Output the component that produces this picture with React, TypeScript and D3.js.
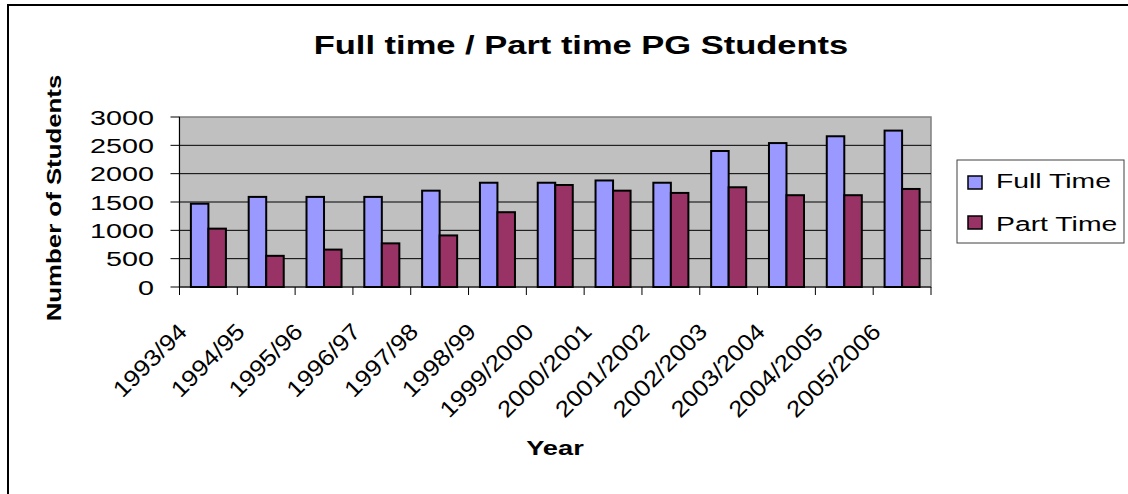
import React from "react";
import * as d3 from "d3";

const categories = [
  "1993/94", "1994/95", "1995/96", "1996/97", "1997/98", "1998/99",
  "1999/2000", "2000/2001", "2001/2002", "2002/2003", "2003/2004", "2004/2005", "2005/2006",
];
const fullTime = [1470, 1590, 1590, 1590, 1700, 1840, 1840, 1880, 1840, 2400, 2540, 2660, 2760];
const partTime = [1030, 550, 660, 770, 910, 1320, 1800, 1700, 1660, 1760, 1620, 1620, 1730];
const yTicks = [0, 500, 1000, 1500, 2000, 2500, 3000];
const seriesNames = ["Full Time", "Part Time"];
const seriesColors = ["#9999FF", "#993366"];

const W = 1128;
const H = 494;
const plot = { left: 179.5, right: 931, top: 117, bottom: 287 };
const FONT = "Arial, 'Liberation Sans', sans-serif";

export default function App() {
  const x = d3.scaleBand<string>().domain(categories).range([plot.left, plot.right]).paddingInner(0).paddingOuter(0);
  const xs = d3.scaleBand<string>().domain(seriesNames).range([0, x.bandwidth()]).paddingInner(0).paddingOuter(0.65);
  const y = d3.scaleLinear().domain([0, 3000]).range([plot.bottom, plot.top]);
  const series = [fullTime, partTime];

  return (
    <svg width={W} height={H} style={{ position: "absolute", left: 0, top: 0, background: "#fff" }} fontFamily={FONT}>
      {/* outer frame */}
      <rect x={8} y={5} width={1300} height={700} fill="#fff" stroke="#000" strokeWidth={2} />

      {/* title */}
      <text transform={`translate(581,54) scale(1.38,1)`} textAnchor="middle" fontWeight="bold" fontSize={25} fill="#000">
        Full time / Part time PG Students
      </text>

      {/* plot area */}
      <rect x={plot.left} y={plot.top} width={plot.right - plot.left} height={plot.bottom - plot.top} fill="#C0C0C0" stroke="#808080" strokeWidth={1.5} />
      {yTicks.filter((t) => t > 0 && t < 3000).map((t) => (
        <line key={t} x1={plot.left} x2={plot.right} y1={y(t)} y2={y(t)} stroke="#000" strokeWidth={1} />
      ))}

      {/* bars */}
      {categories.map((c, i) => (
        <g key={c}>
          {series.map((s, j) => (
            <rect
              key={j}
              x={(x(c) as number) + (xs(seriesNames[j]) as number)}
              y={y(s[i])}
              width={xs.bandwidth()}
              height={y(0) - y(s[i])}
              fill={seriesColors[j]}
              stroke="#000"
              strokeWidth={2}
            />
          ))}
        </g>
      ))}

      {/* axes */}
      <line x1={plot.left} x2={plot.left} y1={plot.top} y2={plot.bottom} stroke="#000" strokeWidth={1} />
      <line x1={plot.left} x2={plot.right} y1={plot.bottom} y2={plot.bottom} stroke="#000" strokeWidth={1} />
      {yTicks.map((t) => (
        <g key={t}>
          <line x1={plot.left - 9} x2={plot.left} y1={y(t)} y2={y(t)} stroke="#000" strokeWidth={1} />
          <text transform={`translate(154,${y(t) + 7.5}) scale(1.37,1)`} textAnchor="end" fontSize={21} fill="#000">
            {t}
          </text>
        </g>
      ))}
      {[...categories.map((c) => x(c) as number), plot.right].map((px, i) => (
        <line key={i} x1={px} x2={px} y1={plot.bottom} y2={plot.bottom + 8} stroke="#000" strokeWidth={1} />
      ))}
      {categories.map((c) => {
        const cx = (x(c) as number) + x.bandwidth() / 2;
        return (
          <text key={c} transform={`translate(${cx - 20},333) rotate(-45) scale(1.12,1)`} textAnchor="end" fontSize={23} fill="#000">
            {c}
          </text>
        );
      })}

      {/* axis titles */}
      <text transform={`translate(555,455) scale(1.3,1)`} textAnchor="middle" fontWeight="bold" fontSize={21} fill="#000">
        Year
      </text>
      <text transform={`translate(61,198) rotate(-90) scale(1.23,1)`} textAnchor="middle" fontWeight="bold" fontSize={21} fill="#000">
        Number of Students
      </text>

      {/* legend */}
      <rect x={957} y={160} width={167} height={83} fill="#fff" stroke="#404040" strokeWidth={1} />
      {seriesNames.map((n, j) => (
        <g key={n}>
          <rect x={968} y={176 + j * 40} width={14} height={13} fill={seriesColors[j]} stroke="#000" strokeWidth={1.5} />
          <text transform={`translate(996,${188 + j * 43}) scale(1.35,1)`} fontSize={21} fill="#000">
            {n}
          </text>
        </g>
      ))}
    </svg>
  );
}
